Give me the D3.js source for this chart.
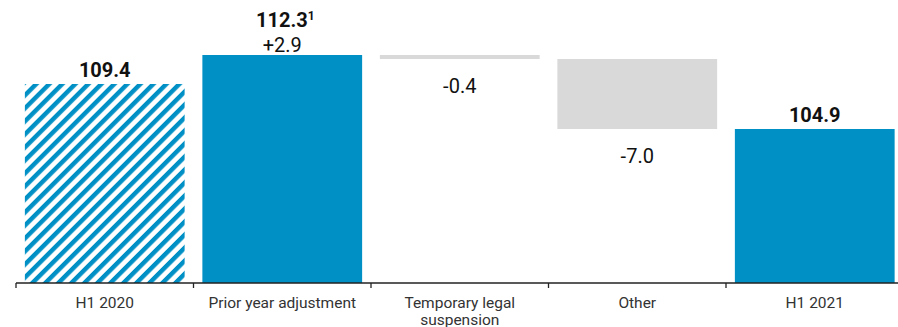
<!DOCTYPE html>
<html>
<head>
<meta charset="utf-8">
<script src="https://cdn.jsdelivr.net/npm/d3@7"></script>
<style>
  html, body { margin: 0; padding: 0; background: #fff; }
  svg { display: block; font-family: Roboto, "DejaVu Sans", sans-serif; }
</style>
</head>
<body>
<svg id="chart" width="898" height="327"></svg>
<script>
// Waterfall: H1 2020 to H1 2021
const categories = ["H1 2020", "Prior year adjustment", "Temporary legal suspension", "Other", "H1 2021"];
const categoryLines = [["H1 2020"], ["Prior year adjustment"], ["Temporary legal", "suspension"], ["Other"], ["H1 2021"]];
const values = [109.4, 2.9, -0.4, -7.0, 104.9];
// "subtotal" steps add their change and are drawn as a full bar from the baseline
const kinds = ["total", "subtotal", "delta", "delta", "total"];
const valueLabels = ["109.4", "+2.9", "-0.4", "-7.0", "104.9"];
const subtotalLabel = { index: 1, text: "112.3", note: "1" };

const W = 898, H = 327;
const axisY = 283;
const svg = d3.select("#chart");

// running start / end for each step
let running = 0;
const steps = values.map((v, i) => {
  let start, end;
  if (kinds[i] === "total") { start = null; end = v; running = v; }
  else { start = running; end = running + v; running = end; }
  return { cat: categories[i], value: v, kind: kinds[i], start, end, i };
});

const yMin = 89.5;
const x = d3.scaleBand().domain(categories).range([16, 903.5]).paddingInner(0.1).paddingOuter(0.05);
const y = d3.scaleLinear().domain([yMin, 112.3]).range([axisY, 55]);

const blue = "#0090c5";
const grey = "#d9d9d9";

// hatched fill for the base period
const defs = svg.append("defs");
const pat = defs.append("pattern")
  .attr("id", "hatch")
  .attr("patternUnits", "userSpaceOnUse")
  .attr("width", 9.2).attr("height", 9.2)
  .attr("patternTransform", "rotate(45)");
pat.append("rect").attr("width", 9.2).attr("height", 9.2).attr("fill", "#fff");
pat.append("rect").attr("x", 0).attr("width", 4.4).attr("height", 9.2).attr("fill", blue);

const full = d => d.kind === "total" || d.kind === "subtotal";

// bars
svg.append("g").selectAll("rect")
  .data(steps)
  .join("rect")
  .attr("x", d => x(d.cat))
  .attr("width", x.bandwidth())
  .attr("y", d => full(d) ? y(d.end) : y(Math.max(d.start, d.end)))
  .attr("height", d => full(d) ? y(yMin) - y(d.end) : Math.abs(y(d.start) - y(d.end)))
  .attr("fill", d => {
    if (d.i === 0) return "url(#hatch)";
    if (full(d) || d.value > 0) return blue;
    return grey;
  });

// value labels
const lab = svg.append("g").attr("text-anchor", "middle").attr("font-size", 20);
steps.forEach(d => {
  const cx = x(d.cat) + x.bandwidth() / 2;
  let ty;
  if (d.kind === "total") ty = y(d.end) - 7;
  else if (d.value > 0) ty = y(d.end) - 3.5;
  else ty = y(d.end) + 34;
  lab.append("text")
    .attr("x", cx).attr("y", ty)
    .attr("font-weight", d.kind === "total" ? 700 : 400)
    .attr("fill", "#111")
    .text(valueLabels[d.i]);
});

// subtotal after the prior year adjustment, with footnote marker
{
  const d = steps[subtotalLabel.index];
  const cx = x(d.cat) + x.bandwidth() / 2;
  const t = lab.append("text")
    .attr("x", cx + 3).attr("y", y(d.end) - 28)
    .attr("font-weight", 700).attr("fill", "#111");
  t.append("tspan").text(subtotalLabel.text);
  t.append("tspan").attr("font-size", 12).attr("dy", -7).text(subtotalLabel.note);
}

// x axis: baseline, boundary ticks, category labels
const ax = svg.append("g");
ax.append("line")
  .attr("x1", 16).attr("x2", W).attr("y1", axisY).attr("y2", axisY)
  .attr("stroke", "#222").attr("stroke-width", 1.3);
const bounds = categories.map(c => x(c) - x.step() * x.paddingInner() / 2);
ax.selectAll("line.tick")
  .data(bounds)
  .join("line")
  .attr("class", "tick")
  .attr("x1", d => d).attr("x2", d => d)
  .attr("y1", axisY).attr("y2", axisY + 5)
  .attr("stroke", "#222").attr("stroke-width", 1.3);
const tl = ax.append("g").attr("text-anchor", "middle").attr("font-size", 15.5).attr("fill", "#333");
categories.forEach((c, i) => {
  const t = tl.append("text").attr("x", x(c) + x.bandwidth() / 2).attr("y", 308);
  categoryLines[i].forEach((line, j) => {
    t.append("tspan").attr("x", x(c) + x.bandwidth() / 2).attr("dy", j === 0 ? 0 : 17).text(line);
  });
});
</script>
</body>
</html>
